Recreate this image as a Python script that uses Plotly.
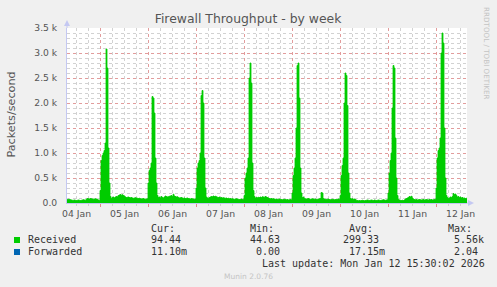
import pandas as pd
import plotly.graph_objects as go

# ---------------- data (Received packets/s, 30-minute samples) ----------------
jan04 = [70, 75, 70, 65, 60, 55, 55, 60, 55, 50, 55, 60, 55, 50, 55, 60, 65, 60, 55, 75,
         90, 85, 80, 90, 85, 80, 75, 80, 85, 80, 70, 60, 55]
jan05 = [250, 850, 950, 1000, 1050, 1200, 3080, 2700, 1100, 400,
         130, 90, 110, 120, 100, 120, 130, 125, 150, 160, 170, 155, 165, 150, 140, 120, 110, 115, 120, 110,
         105, 110, 100, 95, 100, 105, 100, 95, 90, 95, 85, 80, 85, 90, 80, 75, 80, 85]
jan06 = [400, 650, 700, 800, 2130, 2100, 1800, 900, 400,
         150, 110, 120, 100, 130, 110, 100, 120, 140, 130, 120, 125, 135, 140, 150, 130, 175, 140, 130, 120,
         125, 110, 100, 105, 110, 100, 95, 100, 90, 95, 100, 90, 85, 80, 90, 85, 80, 75, 80]
jan07 = [300, 700, 800, 850, 1000, 2150, 2250, 2000, 900, 300,
         120, 100, 95, 110, 120, 130, 125, 140, 130, 135, 125, 115, 110, 120, 105, 110, 100, 105, 100, 95,
         100, 90, 95, 85, 90, 80, 85, 80, 75, 80, 85, 80, 75, 70, 75, 80, 70, 75]
jan08 = [150, 500, 600, 700, 900, 2500, 2800, 2400, 800, 250,
         130, 100, 110, 105, 115, 110, 120, 110, 125, 120, 115, 130, 120, 110, 100, 90, 85, 90, 80, 85,
         80, 75, 80, 70, 75, 80, 75, 70, 65, 70, 75, 70, 65, 70, 60, 65, 70, 65]
jan09 = [200, 550, 700, 900, 1500, 2750, 2800, 2100, 700, 200,
         110, 120, 90, 85, 80, 85, 90, 80, 75, 80, 85, 80, 75, 80, 70, 75, 80, 85, 90, 210,
         200, 90, 80, 75, 70, 75, 80, 70, 65, 70, 75, 70, 65, 70, 75, 70, 80, 75]
jan10 = [150, 550, 750, 900, 2000, 2600, 2550, 1950, 600, 200,
         90, 80, 85, 75, 80, 70, 55, 50, 45, 50, 45, 50, 55, 50, 45, 50, 55, 60, 55, 50,
         55, 60, 55, 50, 60, 55, 50, 55, 60, 55, 50, 55, 60, 65, 60, 55, 60, 65]
jan11 = [200, 600, 850, 1000, 1900, 2750, 2700, 1300, 500, 150,
         70, 60, 55, 50, 55, 50, 60, 80, 90, 100, 110, 130, 120, 135, 100, 80, 70, 65, 70, 60,
         65, 70, 65, 60, 65, 70, 60, 65, 70, 65, 60, 70, 65, 70, 60, 65, 70, 75]
jan12 = [300, 900, 1050, 1100, 1300, 3000, 3400, 3200, 1500, 500, 150,
         110, 90, 100, 120, 110, 130, 190, 170, 180, 150, 120, 130, 110, 120, 100, 110, 95, 100, 90, 95, 95]

received = jan04 + jan05 + jan06 + jan07 + jan08 + jan09 + jan10 + jan11 + jan12
times = pd.date_range("2026-01-04 07:30", periods=len(received), freq="30min")

y_ticks = [0, 500, 1000, 1500, 2000, 2500, 3000, 3500]
y_labels = ["0.0", "0.5 k", "1.0 k", "1.5 k", "2.0 k", "2.5 k", "3.0 k", "3.5 k"]
day_labels = ["04 Jan", "05 Jan", "06 Jan", "07 Jan", "08 Jan", "09 Jan", "10 Jan", "11 Jan", "12 Jan"]
day_noons = pd.date_range("2026-01-04 12:00", periods=9, freq="D")
midnights = pd.date_range("2026-01-05", periods=8, freq="D")

legend_cols = ["Cur:", "Min:", "Avg:", "Max:"]
recv_stats = ["94.44", "44.63", "299.33", "5.56k"]
fwd_stats = ["11.10m", "0.00", "17.15m", "2.04"]

# ---------------- figure ----------------
W, H = 497, 287
L, R, T, B = 67, 467, 28, 203


def px(x):
    return (x - L) / (R - L)


def py(y):
    return (B - y) / (B - T)


fig = go.Figure()
fig.add_trace(go.Scatter(
    x=times, y=received, mode="lines", line=dict(color="#00CC00", width=0.8, shape="hv"),
    fill="tozeroy", fillcolor="#00CC00", hoverinfo="skip", showlegend=False))

RED = "#E29C9C"
GREY = "#D2D2D2"
AXIS = "#C4C8F2"

fig.update_layout(
    width=W, height=H, autosize=False,
    margin=dict(l=L, r=W - R, t=T, b=H - B, pad=0),
    paper_bgcolor="#F0F0F0", plot_bgcolor="#FFFFFF",
    showlegend=False,
    font=dict(family="DejaVu Sans", size=9.2, color="#555555"),
    title=dict(text="Firewall Throughput - by week", x=248 / W, xref="container",
               y=1 - 19 / H, yref="container", xanchor="center", yanchor="middle",
               font=dict(family="DejaVu Sans", size=12.4, color="#555555")),
    xaxis=dict(
        type="date", range=[times[0], times[-1]],
        tickmode="array", tickvals=list(midnights), showticklabels=False,
        showgrid=True, gridcolor=RED, griddash="dot", gridwidth=1,
        ticks="outside", ticklen=3, tickcolor="#E08A8A", tickwidth=1,
        minor=dict(tickmode="linear", tick0="2026-01-04", dtick=6 * 3600 * 1000,
                   showgrid=True, gridcolor=GREY, griddash="dot", gridwidth=1,
                   ticks="outside", ticklen=2, tickcolor="#CFCFCF"),
        showline=True, linecolor=AXIS, linewidth=1, zeroline=False, fixedrange=True),
    yaxis=dict(
        range=[0, 3500], tickmode="array", tickvals=y_ticks, ticktext=y_labels,
        showgrid=True, gridcolor=RED, griddash="dot", gridwidth=1,
        minor=dict(tickmode="linear", tick0=0, dtick=100, showgrid=True,
                   gridcolor=GREY, griddash="dot", gridwidth=1),
        ticks="", ticklabelstandoff=7,
        showline=True, linecolor=AXIS, linewidth=1, zeroline=False, fixedrange=True),
)

# axis arrows
fig.add_shape(type="line", xref="paper", yref="paper", x0=0, x1=0, y0=1, y1=py(22),
              line=dict(color=AXIS, width=1))
fig.add_shape(type="path", xref="paper", yref="paper",
              path=f"M {px(64)} {py(26)} L {px(70)} {py(26)} L {px(67)} {py(20)} Z",
              fillcolor=AXIS, line=dict(width=0))
fig.add_shape(type="line", xref="paper", yref="paper", x0=1, x1=px(471), y0=0, y1=0,
              line=dict(color=AXIS, width=1))
fig.add_shape(type="path", xref="paper", yref="paper",
              path=f"M {px(468)} {py(200)} L {px(468)} {py(206)} L {px(474)} {py(203)} Z",
              fillcolor=AXIS, line=dict(width=0))

# date labels centred at noon
for lab, t in zip(day_labels, day_noons):
    fig.add_annotation(x=t, y=py(213), xref="x", yref="paper", text=lab, showarrow=False,
                       xanchor="center", yanchor="middle",
                       font=dict(family="DejaVu Sans", size=9.3, color="#555555"))

# y-axis title
fig.add_annotation(x=px(11), y=py(114.5), xref="paper", yref="paper", text="Packets/second",
                   showarrow=False, textangle=-90, xanchor="center", yanchor="middle",
                   font=dict(family="DejaVu Sans", size=11.2, color="#555555"))

# watermark
fig.add_annotation(x=px(487), y=py(53), xref="paper", yref="paper", text="RRDTOOL / TOBI OETIKER",
                   showarrow=False, textangle=90, xanchor="center", yanchor="middle",
                   font=dict(family="DejaVu Sans", size=7.2, color="#C4C4C4"))

MONO = dict(family="DejaVu Sans Mono", size=10, color="#333333")


def txt(x, y, s, font=MONO, anchor="left"):
    fig.add_annotation(x=px(x), y=py(y), xref="paper", yref="paper", text=s, showarrow=False,
                       xanchor=anchor, yanchor="middle", borderpad=0, font=font)


col_x = [150, 249, 348, 447]
for cx, s in zip(col_x, legend_cols):
    txt(cx, 228, s)

txt(26.5, 239.5, "Received")
for cx, s in zip([150, 249, 341.5, 453], recv_stats):
    txt(cx, 239.5, s)
txt(26.5, 251.7, "Forwarded")
for cx, s in zip([150, 255, 347.5, 453], fwd_stats):
    txt(cx, 251.7, s)

fig.add_shape(type="rect", xref="paper", yref="paper", x0=px(14), x1=px(20), y0=py(243), y1=py(237),
              fillcolor="#00CC00", line=dict(width=0))
fig.add_shape(type="rect", xref="paper", yref="paper", x0=px(14), x1=px(20), y0=py(255), y1=py(249),
              fillcolor="#0066B3", line=dict(width=0))

txt(261, 263.5, "Last update: Mon Jan 12 15:30:02 2026")
txt(248, 276.5, "Munin 2.0.76", font=dict(family="DejaVu Sans", size=7.5, color="#C4C4C4"), anchor="center")

fig.write_html("out.html")
